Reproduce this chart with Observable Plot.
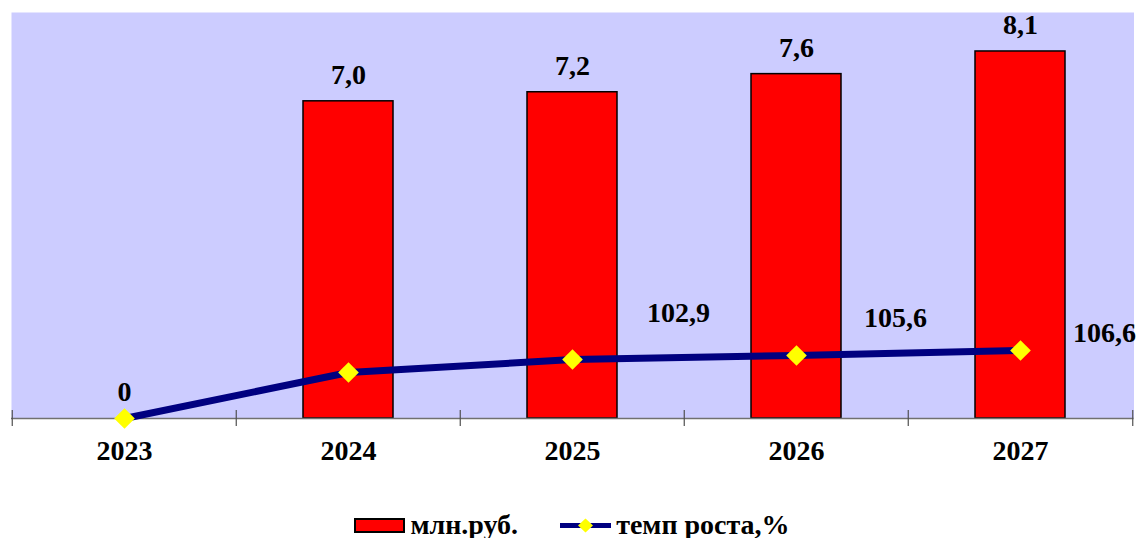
<!DOCTYPE html>
<html><head><meta charset="utf-8">
<script src="https://cdn.jsdelivr.net/npm/d3@7"></script>
<script src="https://cdn.jsdelivr.net/npm/@observablehq/plot@0.6"></script>
<style>
body{margin:0;background:#fff;font-family:"Liberation Serif","Times New Roman",serif;position:relative;width:1144px;height:538px;overflow:hidden;}
#chart svg{display:block;}
#legend{position:absolute;left:0;top:511px;width:1144px;height:28px;display:flex;justify-content:center;align-items:center;}
.item{display:flex;align-items:center;font-weight:bold;font-size:28px;line-height:28px;color:#000;}
.item svg{margin-right:5px;display:block;}
</style></head>
<body><div id="chart"></div>
<div id="legend">
 <div class="item" style="margin-right:42px"><svg width="51" height="15"><rect x="1" y="1" width="49" height="13" fill="#ff0000" stroke="#000" stroke-width="2"/></svg><span>млн.руб.</span></div>
 <div class="item"><svg width="51" height="17"><line x1="0" y1="8.5" x2="51" y2="8.5" stroke="#000080" stroke-width="5"/><path d="M25.5,1.5L33,8.5L25.5,15.5L18,8.5Z" fill="#ffff00"/></svg><span>темп роста,%</span></div>
</div>
<script>
const years = ["2023", "2024", "2025", "2026", "2027"];
const amounts = [null, 7.0, 7.2, 7.6, 8.1];
const amountLabels = ["", "7,0", "7,2", "7,6", "8,1"];
const rates = [0, 72.5, 93, 99.3, 107.2];          // plotted on secondary axis
const rateLabels = ["0", "", "102,9", "105,6", "106,6"];

const yMax = 8.96, rateMax = 640;
const W = 1144, H = 490, mL = 11, mR = 10.5, mT = 12, mB = 72;
const step = (W - mL - mR) / years.length;
const labelOffsets = [[0, -26], [0, 0], [106, -46], [99, -37], [84, -17]];
const tick = 8 / (H - mT - mB) * yMax;

const data = years.map((year, i) => ({
  year, amount: amounts[i], amountLabel: amountLabels[i],
  rate: rates[i], rateY: rates[i] / rateMax * yMax, rateLabel: rateLabels[i], i
}));
const bars = data.filter(d => d.amount != null);
const font = {fontSize: 28, fontWeight: "bold", fill: "#000"};

const rateTextMarks = data.filter(d => d.rateLabel !== "").map(d =>
  Plot.text([d], {x: "year", y: "rateY", text: "rateLabel", dx: labelOffsets[d.i][0], dy: labelOffsets[d.i][1], ...font}));

const chart = Plot.plot({
  width: W, height: H, marginLeft: mL, marginRight: mR, marginTop: mT, marginBottom: mB,
  style: {fontFamily: "Liberation Serif, Times New Roman, serif", background: "#fff"},
  x: {domain: years, paddingInner: 0.6, paddingOuter: 0.3, axis: null},
  y: {domain: [0, yMax], axis: null},
  marks: [
    Plot.frame({fill: "#ccccff", stroke: "none"}),
    Plot.barY(bars, {x: "year", y: "amount", fill: "#ff0000", stroke: "#000", strokeWidth: 1.5}),
    Plot.ruleY([0], {stroke: "#707070", strokeWidth: 1.5}),
    Plot.ruleX(years, {x: d => d, dx: -step / 2, y1: tick, y2: -tick, stroke: "#505050", strokeWidth: 1.2}),
    Plot.ruleX(years.slice(-1), {x: d => d, dx: step / 2, y1: tick, y2: -tick, stroke: "#505050", strokeWidth: 1.2}),
    Plot.line(data, {x: "year", y: "rateY", stroke: "#000080", strokeWidth: 7}),
    Plot.dot(data, {x: "year", y: "rateY", symbol: "diamond2", r: 9.3, fill: "#ffff00", stroke: "none"}),
    Plot.text(bars, {x: "year", y: "amount", text: "amountLabel", dy: -26, ...font}),
    ...rateTextMarks,
    Plot.text(data, {x: "year", y: 0, text: "year", dy: 33, ...font})
  ]
});
document.getElementById("chart").appendChild(chart);
</script>
</body></html>
